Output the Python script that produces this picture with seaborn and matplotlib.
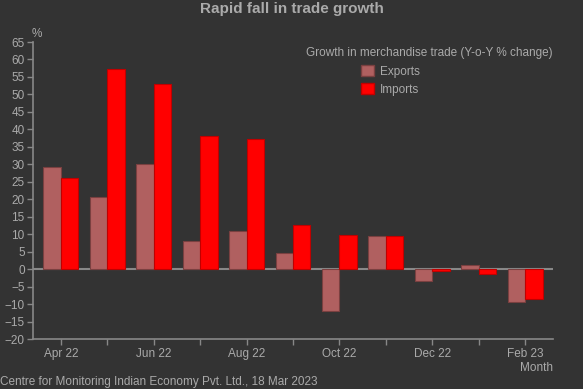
"""
    trade growth bar chart
"""

import pandas as pd
import matplotlib.pyplot as plt
import seaborn as sns

months = ['Apr 22', 'May 22', 'Jun 22', 'Jul 22', 'Aug 22', 'Sep 22',
          'Oct 22', 'Nov 22', 'Dec 22', 'Jan 23', 'Feb 23']
exports = [29.1, 20.7, 30.0, 8.0, 10.9, 4.6, -12.0, 9.6, -3.4, 1.2, -9.4]
imports = [26.0, 57.3, 53.0, 38.1, 37.2, 12.6, 9.7, 9.6, -0.6, -1.3, -8.6]
y_ticks = list(range(-20, 70, 5))

BG = '#333333'
TXT = '#aaaaaa'
AXC = '#888888'

df = pd.DataFrame({
    'month': months * 2,
    'value': exports + imports,
    'series': ['Exports'] * len(months) + ['Imports'] * len(months),
})

sns.set_style('dark')
plt.rcParams['font.family'] = ['Liberation Sans', 'DejaVu Sans']

fig = plt.figure(figsize=(5.83, 3.89), dpi=100, facecolor=BG)
ax = fig.add_axes([0.0566, 0.1285, 0.892, 0.7635], facecolor=BG)

sns.barplot(data=df, x='month', y='value', hue='series', order=months,
            palette={'Exports': '#b06060', 'Imports': '#ff0000'},
            width=0.75, gap=0, saturation=1, ax=ax, legend=False)
for patch, ec in zip(ax.patches, ['#7a4040'] * len(months) + ['#c00000'] * len(months)):
    patch.set_edgecolor(ec)
    patch.set_linewidth(0.8)

ax.set_xlim(-0.6, 10.6)
ax.set_ylim(-20, 65)
ax.set_yticks(y_ticks)
ax.set_xticks(range(len(months)))
ax.set_xticklabels([m if i % 2 == 0 else '' for i, m in enumerate(months)])
ax.axhline(0, color=AXC, lw=1.5, zorder=0.5)

ax.grid(False)
for side in ['top', 'right']:
    ax.spines[side].set_visible(False)
for side in ['left', 'bottom']:
    ax.spines[side].set_color(AXC)
    ax.spines[side].set_linewidth(1.2)
ax.tick_params(axis='both', colors=AXC, labelcolor=TXT, labelsize=8.5,
               length=4, width=1, direction='out', bottom=True, left=True)
ax.tick_params(axis='y', pad=2)
ax.tick_params(axis='x', pad=2.5)
ax.set_xlabel('')
ax.set_ylabel('')

fig.text(0.5, 0.978, 'Rapid fall in trade growth', ha='center', va='center',
         color=TXT, fontsize=11, fontweight='bold')
fig.text(0.055, 0.913, '%', color=TXT, fontsize=8.5, ha='left', va='center')
fig.text(0.948, 0.054, 'Month', color=TXT, fontsize=8.5, ha='right', va='center')
fig.text(0.0, 0.017, 'Centre for Monitoring Indian Economy Pvt. Ltd., 18 Mar 2023',
         color=TXT, fontsize=8.5, ha='left', va='center')

fig.text(0.737, 0.864, 'Growth in merchandise trade (Y-o-Y % change)',
         color=TXT, fontsize=8.5, ha='center', va='center')
handles = [plt.Rectangle((0, 0), 1, 1, fc='#b06060', ec='#7a4040'),
           plt.Rectangle((0, 0), 1, 1, fc='#ff0000', ec='#c00000')]
leg = fig.legend(handles, ['Exports', 'Imports'], loc='upper left',
                 bbox_to_anchor=(0.609, 0.848), frameon=False, fontsize=8.5,
                 labelcolor=TXT, handlelength=1.1, handleheight=1.1,
                 handletextpad=0.5, labelspacing=0.45, borderpad=0)

fig.savefig('out.png', dpi=100, facecolor=BG)
